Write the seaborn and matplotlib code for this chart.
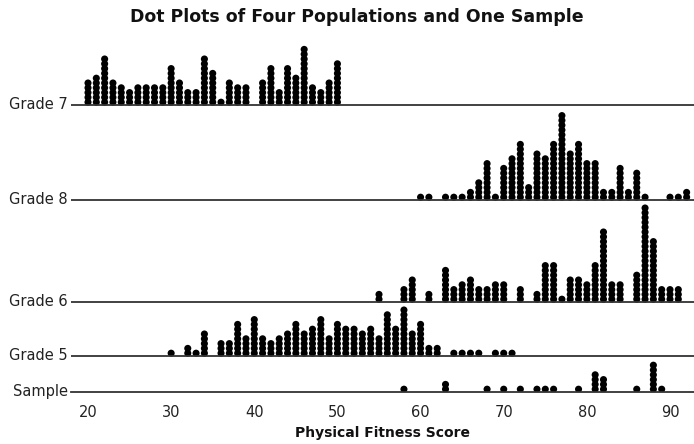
import numpy as np
import pandas as pd
import matplotlib
matplotlib.use("Agg")
import matplotlib.pyplot as plt
import seaborn as sns

# ---- data: score -> number of dots ----
g7_scores = [20,21,22,23,24,25,26,27,28,29,30,31,32,33,34,35,36,37,38,39,41,42,43,44,45,46,47,48,49,50]
g7_counts = [5,6,10,5,4,3,4,4,4,4,8,5,3,3,10,7,1,5,4,4,5,8,3,8,6,12,4,3,5,9]

g8_scores = [60,61,63,64,65,66,67,68,69,70,71,72,73,74,75,76,77,78,79,80,81,82,83,84,85,86,87,90,91,92]
g8_counts = [1,1,1,1,1,2,4,8,1,7,9,12,3,10,9,12,18,10,12,8,8,2,2,7,2,6,1,1,1,2]

g6_scores = [55,58,59,61,63,64,65,66,67,68,69,70,72,74,75,76,77,78,79,80,81,82,83,84,86,87,88,89,90,91]
g6_counts = [2,3,5,2,7,3,4,5,3,3,4,4,3,2,8,8,1,5,5,4,8,15,4,4,6,20,13,3,3,3]

g5_scores = [30,32,33,34,36,37,38,39,40,41,42,43,44,45,46,47,48,49,50,51,52,53,54,55,56,57,58,59,60,61,62,64,65,66,67,69,70,71]
g5_counts = [1,2,1,5,3,3,7,4,8,4,3,4,5,7,5,6,8,4,7,6,6,5,6,4,9,6,10,5,7,2,2,1,1,1,1,1,1,1]

sample_scores = [58,63,68,70,72,74,75,76,79,81,82,86,88,89]
sample_counts = [1,2,1,1,1,1,1,1,1,4,3,1,6,1]

row_names = ["Grade 7", "Grade 8", "Grade 6", "Grade 5", "Sample"]
tick_values = [20, 30, 40, 50, 60, 70, 80, 90]

# ---- layout (pixel space of the 694x444 image) ----
W, H = 694, 444
baselines = [105, 200, 302, 356, 392]
pitch = 4.8

rows = [(g7_scores, g7_counts), (g8_scores, g8_counts), (g6_scores, g6_counts),
        (g5_scores, g5_counts), (sample_scores, sample_counts)]
recs = []
for name, base, (sc, ct) in zip(row_names, baselines, rows):
    for s, c in zip(sc, ct):
        for k in range(c):
            recs.append({"group": name, "score": s, "y": base - 2.8 - k * pitch})
df = pd.DataFrame(recs)

sns.set_style("white")
plt.rcParams['font.family'] = ['DejaVu Sans']

fig = plt.figure(figsize=(W / 100, H / 100), dpi=100)
ax_left, ax_right = 71, 694
ax_top, ax_bot = 30, 392
ax = fig.add_axes([ax_left / W, (H - ax_bot) / H, (ax_right - ax_left) / W, (ax_bot - ax_top) / H])

ppu = (670 - 88) / 70.0
ax.set_xlim(20 - (88 - ax_left) / ppu, 90 + (ax_right - 670) / ppu)
ax.set_ylim(ax_bot, ax_top)

sns.scatterplot(data=df, x="score", y="y", color="black", s=26, edgecolor="none",
                marker="o", ax=ax, legend=False)

for base in baselines[:-1]:
    ax.axhline(base, color="#333333", lw=1.3, zorder=1)

for side in ["top", "right", "left"]:
    ax.spines[side].set_visible(False)
ax.spines["bottom"].set_color("#333333")
ax.spines["bottom"].set_linewidth(1.3)
ax.set_yticks([])
ax.set_xticks(tick_values)
ax.set_xticklabels([str(t) for t in tick_values], fontsize=10.5, color="#222222")
ax.tick_params(axis="x", direction="out", length=7, width=1.2, color="#333333", pad=2)
ax.set_xlabel("Physical Fitness Score", fontsize=10, fontweight="bold", color="#111111", labelpad=5)
ax.set_ylabel("")

for name, base in zip(row_names, baselines):
    fig.text(68 / W, 1 - (base - 1) / H, name, ha="right", va="center", fontsize=10.5, color="#222222")

fig.text(357 / W, 1 - 17 / H, "Dot Plots of Four Populations and One Sample",
         ha="center", va="center", fontsize=12.5, fontweight="bold", color="#111111")

fig.savefig("out.png", dpi=100)
